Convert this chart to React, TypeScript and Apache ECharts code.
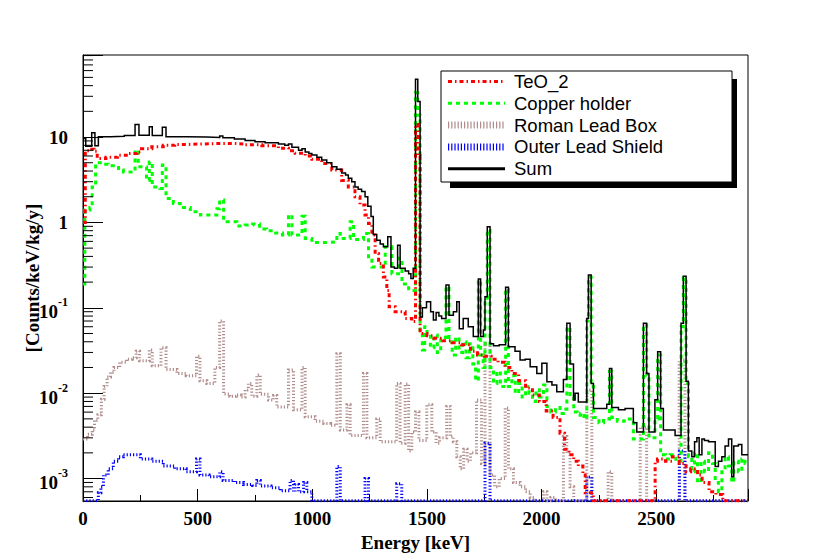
import React, { useEffect, useRef } from 'react';
import * as echarts from 'echarts';

// ---------- data ----------
const SERIES_NAMES = ['TeO_2', 'Copper holder', 'Roman Lead Box', 'Outer Lead Shield', 'Sum'];

// [lower bin edge keV, counts/keV/kg/y]
const SUM: number[][] = [
  [0, 9.6], [12, 7.8], [38, 11.2], [52, 7.9], [67, 10.1], [120, 10.2], [180, 10.4], [227, 14.0], [244, 10.5],
  [289, 13.2], [302, 10.4], [346, 13.0], [362, 10.1], [450, 10.0], [540, 9.9], [596, 10.3], [610, 9.8],
  [660, 9.5], [707, 9.1], [750, 8.8], [794, 8.6], [852, 8.3], [880, 8.0], [896, 8.3], [911, 7.6], [940, 7.0],
  [955, 7.3], [969, 6.7], [985, 6.4], [998, 6.15], [1020, 5.8], [1041, 5.4], [1063, 5.0], [1085, 4.5],
  [1107, 4.2], [1128, 3.8], [1145, 3.6], [1157, 3.3], [1172, 3.0], [1186, 2.6], [1200, 2.45], [1215, 2.3],
  [1230, 2.0], [1242, 1.55], [1256, 1.17], [1266, 0.72], [1281, 0.62], [1296, 0.56], [1310, 0.52],
  [1329, 0.68], [1343, 0.30], [1358, 0.29], [1372, 0.54], [1383, 0.29], [1405, 0.27], [1420, 0.25],
  [1430, 0.22], [1440, 0.29], [1450, 47.5], [1460, 26], [1470, 0.078], [1480, 0.1], [1498, 0.118],
  [1516, 0.09], [1528, 0.072], [1540, 0.088], [1552, 0.08], [1564, 0.075], [1583, 0.185], [1596, 0.082],
  [1615, 0.09], [1630, 0.118], [1641, 0.057], [1658, 0.075], [1680, 0.06], [1702, 0.046], [1724, 0.217],
  [1734, 0.046], [1746, 0.055], [1753, 0.135], [1763, 0.89], [1775, 0.038], [1790, 0.036], [1815, 0.037],
  [1843, 0.174], [1855, 0.035], [1884, 0.031], [1906, 0.0245], [1928, 0.025], [1950, 0.0204], [1979, 0.017],
  [2001, 0.0224], [2023, 0.0136], [2045, 0.0125], [2066, 0.0104], [2095, 0.0145], [2110, 0.066],
  [2124, 0.022], [2139, 0.0083], [2146, 0.01], [2160, 0.0079], [2197, 0.075], [2204, 0.242], [2216, 0.013],
  [2226, 0.0066], [2284, 0.0074], [2296, 0.0195], [2306, 0.0068], [2335, 0.0064], [2364, 0.0066],
  [2400, 0.0045], [2415, 0.0035], [2444, 0.066], [2458, 0.017], [2468, 0.0035], [2494, 0.0084],
  [2506, 0.0306], [2519, 0.0066], [2531, 0.0037], [2582, 0.0032], [2608, 0.066], [2618, 0.234],
  [2630, 0.0138], [2640, 0.0021], [2655, 0.0018], [2667, 0.0027], [2677, 0.003], [2687, 0.0019],
  [2699, 0.0029], [2710, 0.0028], [2728, 0.0027], [2757, 0.00138], [2771, 0.0016], [2786, 0.0018],
  [2800, 0.0024], [2815, 0.0029], [2829, 0.00105], [2838, 0.0024], [2858, 0.0025], [2873, 0.0019],
  [2900, 0.0019],
];

const TEO2: number[][] = [
  [0, 1.0], [10, 6.9], [30, 7.2], [48, 6.8], [62, 5.6], [100, 5.8], [150, 6.1], [200, 6.4], [235, 6.7],
  [255, 7.3], [300, 7.7], [350, 8.0], [400, 8.2], [460, 8.3], [520, 8.4], [600, 8.4], [660, 8.3],
  [707, 8.1], [780, 7.9], [852, 7.4], [896, 6.9], [925, 6.45], [969, 6.0], [998, 5.5], [1041, 4.9],
  [1085, 4.1], [1128, 3.1], [1157, 2.6], [1186, 2.0], [1208, 1.6], [1230, 1.22], [1245, 0.97], [1260, 0.71],
  [1274, 0.43], [1289, 0.33], [1310, 0.23], [1325, 0.16], [1335, 0.103], [1361, 0.09], [1405, 0.075],
  [1434, 0.069], [1450, 14], [1460, 6], [1470, 0.05], [1500, 0.047], [1530, 0.044], [1570, 0.041],
  [1610, 0.039], [1650, 0.037], [1690, 0.031], [1720, 0.028], [1750, 0.027], [1780, 0.025], [1810, 0.023],
  [1840, 0.02], [1870, 0.017], [1900, 0.014], [1930, 0.0115], [1960, 0.0095], [1990, 0.008], [2020, 0.0062],
  [2050, 0.0052], [2080, 0.0034], [2100, 0.0022], [2120, 0.0019], [2140, 0.0016], [2160, 0.0014],
  [2180, 0.0011], [2190, 0.00068], [2225, 0.00055], [2495, 0.0016], [2505, 0.0017], [2540, 0.0016],
  [2570, 0.0018], [2600, 0.0015], [2630, 0.0012], [2650, 0.0013], [2680, 0.0011], [2700, 0.0009],
  [2730, 0.0007], [2760, 0.00065], [2790, 0.00055], [2900, 0.00055],
];

const COPPER: number[][] = [
  [0, 0.19], [8, 1.4], [30, 1.5], [40, 2.6], [55, 5.0], [90, 4.8], [110, 4.6], [132, 4.4], [155, 4.1],
  [176, 3.9], [227, 7.0], [241, 4.5], [277, 3.1], [289, 5.1], [302, 2.6], [336, 2.5], [346, 4.7], [362, 1.9],
  [394, 1.67], [424, 1.5], [468, 1.33], [512, 1.22], [584, 1.45], [596, 1.83], [613, 1.02], [671, 0.91],
  [707, 0.93], [740, 0.96], [770, 0.84], [800, 0.8], [840, 0.75], [870, 0.71], [896, 1.22], [911, 0.71],
  [955, 1.18], [969, 0.65], [998, 0.58], [1056, 0.59], [1107, 0.74], [1122, 0.65], [1165, 1.02],
  [1180, 0.63], [1223, 0.74], [1245, 0.36], [1260, 0.30], [1318, 0.52], [1347, 0.25], [1376, 0.38],
  [1391, 0.19], [1420, 0.16], [1450, 33], [1460, 18], [1470, 0.055], [1480, 0.032], [1490, 0.06],
  [1500, 0.05], [1515, 0.034], [1530, 0.048], [1545, 0.03], [1560, 0.045], [1583, 0.177], [1596, 0.04],
  [1610, 0.028], [1625, 0.045], [1640, 0.03], [1655, 0.04], [1670, 0.026], [1685, 0.038], [1700, 0.022],
  [1712, 0.014], [1724, 0.21], [1734, 0.028], [1745, 0.02], [1753, 0.12], [1763, 0.81], [1775, 0.02],
  [1790, 0.013], [1805, 0.018], [1820, 0.012], [1843, 0.165], [1855, 0.012], [1870, 0.016], [1885, 0.01],
  [1900, 0.013], [1915, 0.009], [1930, 0.012], [1945, 0.01], [1960, 0.008], [1975, 0.011], [1990, 0.009],
  [2008, 0.0125], [2023, 0.007], [2040, 0.006], [2060, 0.0068], [2080, 0.0058], [2095, 0.0065],
  [2110, 0.059], [2124, 0.009], [2140, 0.006], [2155, 0.0055], [2170, 0.0058], [2185, 0.005], [2197, 0.07],
  [2204, 0.23], [2216, 0.012], [2226, 0.0052], [2250, 0.0045], [2270, 0.005], [2296, 0.018], [2306, 0.0052],
  [2330, 0.0047], [2360, 0.005], [2400, 0.0029], [2444, 0.063], [2458, 0.016], [2468, 0.003], [2494, 0.005],
  [2506, 0.028], [2519, 0.0019], [2540, 0.0017], [2560, 0.0019], [2585, 0.0016], [2608, 0.06],
  [2618, 0.225], [2630, 0.013], [2640, 0.0018], [2655, 0.0012], [2667, 0.002], [2680, 0.0009],
  [2695, 0.0016], [2710, 0.0012], [2728, 0.002], [2745, 0.0015], [2757, 0.0009], [2771, 0.0007],
  [2786, 0.0012], [2800, 0.0018], [2815, 0.0014], [2829, 0.0009], [2838, 0.0016], [2858, 0.0012],
  [2873, 0.0017], [2887, 0.0015], [2900, 0.0015],
];

const ROMAN: number[][] = [
  [0, 0.0029], [20, 0.0033], [40, 0.0037], [50, 0.0048], [65, 0.0056], [80, 0.0085], [92, 0.012],
  [105, 0.0155], [120, 0.0175], [135, 0.02], [160, 0.023], [190, 0.025], [215, 0.026], [232, 0.031],
  [247, 0.024], [289, 0.032], [302, 0.021], [340, 0.034], [362, 0.019], [410, 0.017], [450, 0.016],
  [495, 0.027], [510, 0.014], [540, 0.013], [575, 0.02], [596, 0.07], [613, 0.0098], [640, 0.0092],
  [668, 0.0095], [690, 0.009], [707, 0.0109], [721, 0.013], [736, 0.0092], [758, 0.0163], [773, 0.0097],
  [809, 0.0083], [831, 0.0094], [845, 0.0069], [896, 0.0187], [918, 0.0064], [955, 0.02], [969, 0.0053],
  [1012, 0.0047], [1050, 0.0044], [1080, 0.0042], [1107, 0.029], [1122, 0.0037], [1151, 0.0073],
  [1165, 0.0032], [1223, 0.017], [1238, 0.003], [1281, 0.005], [1296, 0.0027], [1368, 0.013],
  [1383, 0.0026], [1405, 0.0128], [1420, 0.0021], [1434, 0.0035], [1450, 0.006], [1465, 0.0028],
  [1499, 0.0073], [1521, 0.0035], [1540, 0.0026], [1555, 0.003], [1586, 0.007], [1601, 0.0031],
  [1615, 0.0027], [1630, 0.0018], [1645, 0.0013], [1660, 0.0022], [1675, 0.0016], [1690, 0.002],
  [1716, 0.0083], [1738, 0.0015], [1753, 0.038], [1775, 0.0011], [1795, 0.0008], [1815, 0.001],
  [1841, 0.0067], [1855, 0.0013], [1877, 0.0009], [1906, 0.0008], [1930, 0.0007], [1950, 0.0006],
  [1970, 0.00055], [2008, 0.0007], [2023, 0.00055], [2040, 0.0006], [2060, 0.00055], [2095, 0.0031],
  [2110, 0.002], [2124, 0.0008], [2140, 0.00055], [2197, 0.0109], [2219, 0.00055], [2290, 0.0012],
  [2306, 0.00055], [2430, 0.004], [2458, 0.00055], [2600, 0.0245], [2625, 0.00055], [2900, 0.00055],
];

const OUTER: number[][] = [
  [0, 0.00055], [67, 0.00068], [78, 0.0008], [89, 0.0011], [110, 0.0013], [132, 0.0016], [155, 0.0018],
  [176, 0.0019], [210, 0.0019], [250, 0.0017], [300, 0.0016], [350, 0.0014], [400, 0.0013], [450, 0.0012],
  [495, 0.0017], [510, 0.0011], [550, 0.00105], [596, 0.0012], [611, 0.00095], [660, 0.0009],
  [700, 0.00085], [740, 0.00083], [758, 0.00095], [773, 0.00082], [820, 0.00078], [860, 0.00072],
  [903, 0.00095], [918, 0.0007], [925, 0.00085], [940, 0.0007], [962, 0.0009], [976, 0.0007],
  [998, 0.00055], [1107, 0.00138], [1122, 0.00055], [1230, 0.001], [1245, 0.00055], [1368, 0.00087],
  [1390, 0.00055], [1753, 0.0026], [1775, 0.00055], [2197, 0.00104], [2219, 0.00055], [2601, 0.0021],
  [2625, 0.00055], [2900, 0.00055],
];

const X_MIN = 0;
const X_MAX = 2900;
const X_INTERVAL = 500;
const Y_MIN = 0.000546;
const Y_MAX = 91.4;
const MINOR_MANTISSAS = [2, 3, 4, 5, 6, 7, 8, 9];
const MINOR_DECADES = [-4, -3, -2, -1, 0, 1];

const SERIF = '"Liberation Serif", "DejaVu Serif", serif';
const SANS = '"Liberation Sans", Arial, sans-serif';

export default function App() {
  const ref = useRef<HTMLDivElement>(null);

  useEffect(() => {
    if (!ref.current) return;
    const chart = echarts.init(ref.current, null, { renderer: 'svg' });

    const minorTicks: number[][] = [];
    MINOR_DECADES.forEach((d) => {
      MINOR_MANTISSAS.forEach((m) => {
        const v = m * Math.pow(10, d);
        if (v > Y_MIN && v < Y_MAX) minorTicks.push([X_MIN, v]);
      });
    });

    const styles = [
      { data: TEO2, color: '#ff0000', width: 3, type: [4, 3, 1.5, 3] },
      { data: COPPER, color: '#00ff00', width: 3, type: [4, 4] },
      { data: ROMAN, color: '#b08c8c', width: 3, type: [1.2, 2] },
      { data: OUTER, color: '#0000ff', width: 3, type: [1.2, 2] },
      { data: SUM, color: '#000000', width: 1.5, type: 'solid' },
    ];
    const drawOrder = [2, 3, 1, 0, 4];

    const legendLeft = 441;
    const legendTop = 71;
    const rowY = [81.5, 103.3, 125.1, 146.9, 168.7];
    const legendWidths = [3, 3, 7, 7, 3];

    const legendGraphics: any[] = [
      { type: 'rect', z: 100, shape: { x: 450, y: 79, width: 287, height: 109 }, style: { fill: '#000' } },
      { type: 'rect', z: 101, shape: { x: legendLeft, y: legendTop, width: 291, height: 111 }, style: { fill: '#fff', stroke: '#000', lineWidth: 1 } },
    ];
    SERIES_NAMES.forEach((name, i) => {
      const st = styles[i];
      legendGraphics.push({
        type: 'line', z: 102,
        shape: { x1: 448, y1: rowY[i], x2: 505, y2: rowY[i] },
        style: {
          stroke: st.color, lineWidth: legendWidths[i],
          lineDash: Array.isArray(st.type) ? st.type : null,
        },
      });
      legendGraphics.push({
        type: 'text', z: 102, x: 514, y: rowY[i],
        style: {
          text: name, fill: '#000', fontSize: 18.5, fontFamily: SANS,
          verticalAlign: 'middle', textVerticalAlign: 'middle', align: 'left',
        },
      });
    });

    const option: any = {
      animation: false,
      backgroundColor: '#ffffff',
      grid: { left: 83, right: 83, top: 55, bottom: 56, show: true, borderColor: '#000', borderWidth: 1, backgroundColor: 'transparent' },
      xAxis: {
        type: 'value', min: X_MIN, max: X_MAX, interval: X_INTERVAL,
        name: 'Energy [keV]', nameLocation: 'middle', nameGap: 32, nameMoveOverlap: false,
        nameTextStyle: { fontFamily: SERIF, fontWeight: 'bold', fontSize: 19, color: '#000' },
        axisLine: { show: true, lineStyle: { color: '#000', width: 1 } },
        axisTick: { show: true, inside: true, length: 12, lineStyle: { color: '#000' } },
        minorTick: { show: true, splitNumber: 2, length: 6, lineStyle: { color: '#000' } },
        axisLabel: {
          fontFamily: SERIF, fontWeight: 'bold', fontSize: 19, color: '#000', margin: 8, showMaxLabel: false,
          formatter: (v: number) => String(Math.round(v)),
        },
        splitLine: { show: false },
      },
      yAxis: {
        type: 'log', logBase: 10, min: Y_MIN, max: Y_MAX,
        name: '[Counts/keV/kg/y]', nameLocation: 'middle', nameGap: 41, nameMoveOverlap: false,
        nameTextStyle: { fontFamily: SERIF, fontWeight: 'bold', fontSize: 19, color: '#000' },
        axisLine: { show: true, lineStyle: { color: '#000', width: 1 } },
        axisTick: { show: true, inside: true, length: 20, lineStyle: { color: '#000' } },
        minorTick: { show: false },
        splitLine: { show: false },
        axisLabel: {
          margin: 15, showMinLabel: true, showMaxLabel: true,
          formatter: (v: number) => {
            const e = Math.log10(v);
            const r = Math.round(e);
            if (Math.abs(e - r) > 1e-6) return '';
            if (r === 1) return '{a|10}';
            if (r === 0) return '{a|1}';
            return '{b|10}{s|' + r + '}';
          },
          rich: {
            a: { fontFamily: SERIF, fontWeight: 'bold', fontSize: 19, color: '#000' },
            b: { fontFamily: SERIF, fontWeight: 'bold', fontSize: 19, color: '#000', padding: [8, 0, 0, 0] },
            s: { fontFamily: SERIF, fontWeight: 'bold', fontSize: 12, color: '#000', verticalAlign: 'top', padding: [2, 0, 0, 0] },
          },
        },
      },
      graphic: legendGraphics,
      series: [
        ...drawOrder.map((i) => ({
          name: SERIES_NAMES[i],
          type: 'line',
          step: 'end',
          data: styles[i].data,
          symbol: 'none',
          showSymbol: false,
          silent: true,
          clip: true,
          z: 2 + drawOrder.indexOf(i),
          lineStyle: { color: styles[i].color, width: styles[i].width, type: styles[i].type, cap: 'butt', join: 'miter' },
        })),
        {
          type: 'custom',
          name: 'minor-y-ticks',
          silent: true,
          z: 20,
          data: minorTicks,
          renderItem: (_p: any, api: any) => {
            const pt = api.coord([api.value(0), api.value(1)]);
            return {
              type: 'line',
              shape: { x1: pt[0], y1: pt[1], x2: pt[0] + 10, y2: pt[1] },
              style: { stroke: '#000', lineWidth: 1 },
            };
          },
        },
      ],
    };

    chart.setOption(option);
    return () => chart.dispose();
  }, []);

  return (
    <div
      ref={ref}
      style={{ position: 'absolute', left: 0, top: 0, width: 831, height: 557, background: '#fff' }}
    />
  );
}
